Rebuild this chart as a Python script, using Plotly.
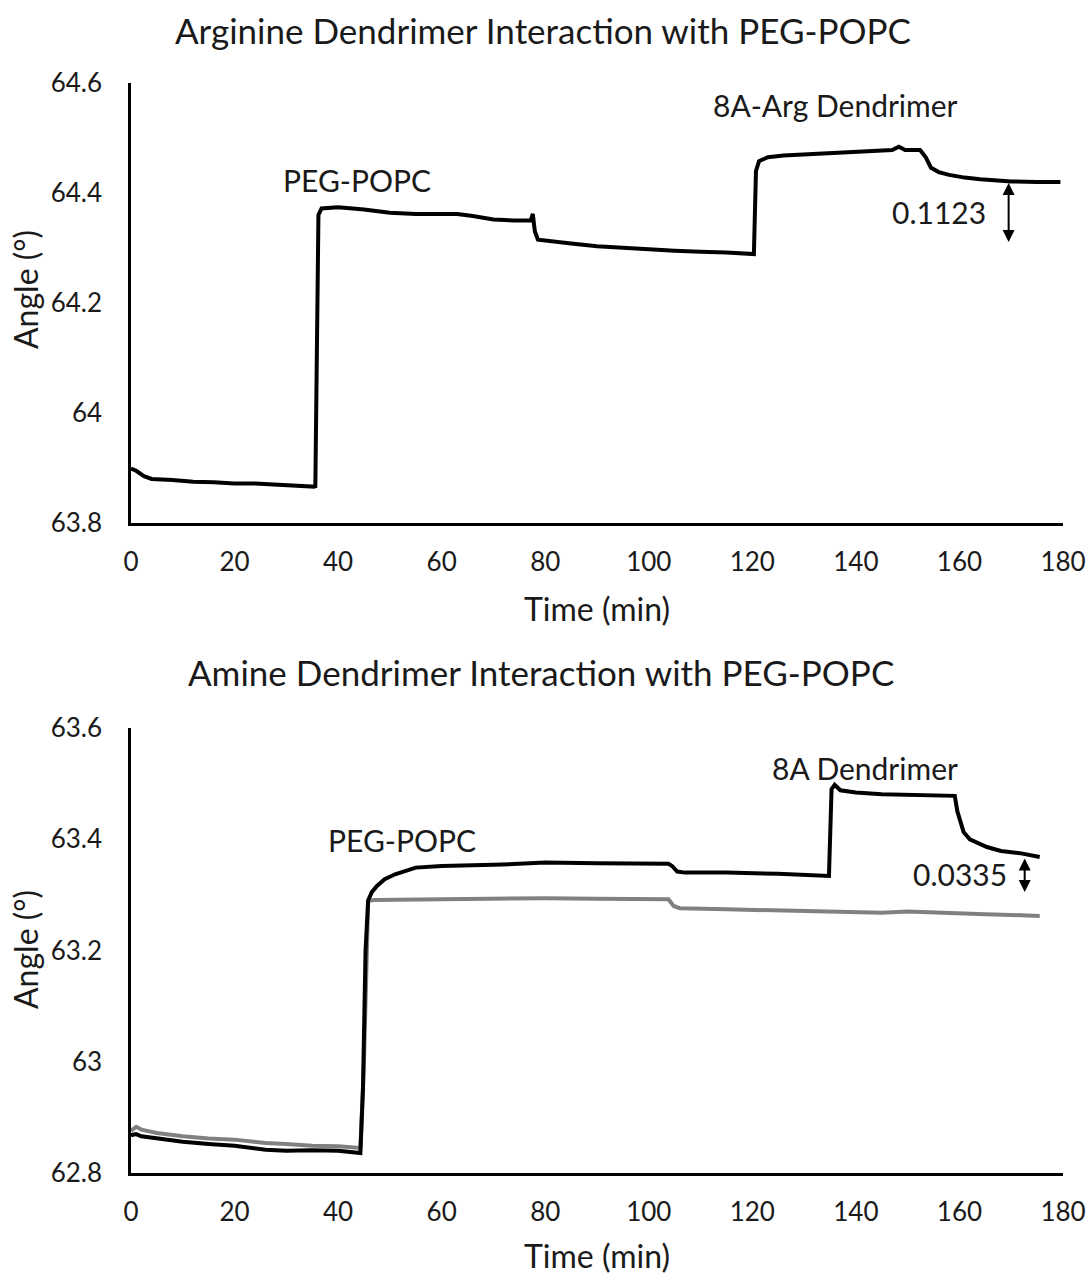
import plotly.graph_objects as go

# ---------------- data ----------------
# Top panel: Arginine dendrimer
arg_time = [0, 1, 2.5, 4, 8, 12, 16, 20, 24, 28, 32, 35.5,
            35.6, 36.2, 36.8, 40, 45, 50, 55, 60, 63, 66, 70, 74, 77.2,
            77.6, 78.0, 78.6, 81, 85, 90, 95, 100, 105, 110, 115, 120.3,
            120.7, 121.3, 123, 126, 130, 135, 140, 144, 147, 148.3, 149.5,
            152.4, 153.5, 154.5, 156, 158, 161, 164, 167, 170, 175, 179.5]
arg_angle = [63.899, 63.895, 63.885, 63.880, 63.878, 63.875, 63.874, 63.872, 63.872, 63.870, 63.868, 63.866,
             63.864, 64.360, 64.372, 64.374, 64.370, 64.364, 64.362, 64.361, 64.362, 64.358, 64.352, 64.350, 64.350,
             64.362, 64.330, 64.315, 64.312, 64.308, 64.303, 64.300, 64.297, 64.295, 64.293, 64.292, 64.289,
             64.440, 64.458, 64.465, 64.468, 64.470, 64.472, 64.474, 64.477, 64.478, 64.484, 64.478,
             64.478, 64.465, 64.446, 64.438, 64.433, 64.428, 64.425, 64.423, 64.421, 64.420, 64.420]

# Bottom panel: Amine dendrimer (black) and reference trace (grey)
amine_time = [0, 1, 2, 5, 10, 15, 20, 26, 30, 35, 40, 44.3,
              44.8, 45.3, 45.8, 46.5, 47.5, 49, 51, 55, 60, 70, 80, 90, 100, 103.8,
              104.5, 105.5, 107, 115, 125, 134.8,
              135.3, 135.9, 137, 140, 145, 150, 155, 159.1,
              159.6, 160.2, 160.8, 162, 163.5, 165.3, 168, 171.7, 175.5]
amine_angle = [62.868, 62.870, 62.866, 62.862, 62.856, 62.852, 62.849, 62.842, 62.840, 62.841, 62.840, 62.836,
               62.950, 63.200, 63.290, 63.305, 63.316, 63.328, 63.337, 63.349, 63.352, 63.354, 63.358, 63.357, 63.356, 63.356,
               63.352, 63.342, 63.340, 63.340, 63.338, 63.334,
               63.490, 63.498, 63.488, 63.484, 63.481, 63.480, 63.480, 63.478,
               63.450, 63.430, 63.413, 63.400, 63.393, 63.386, 63.379, 63.375, 63.368]

ref_time = [0, 1, 2, 5, 10, 15, 20, 26, 30, 35, 40, 44.3,
            45.0, 45.8, 47, 55, 65, 80, 90, 100, 103.8,
            104.8, 106, 115, 125, 135, 145, 150, 155, 160, 165, 170, 175.5]
ref_angle = [62.876, 62.883, 62.878, 62.872, 62.866, 62.862, 62.860, 62.854, 62.852, 62.849, 62.848, 62.845,
             63.000, 63.289, 63.291, 63.292, 63.292, 63.294, 63.293, 63.293, 63.292,
             63.280, 63.276, 63.274, 63.272, 63.270, 63.268, 63.270, 63.268, 63.266, 63.265, 63.264, 63.262]

x_ticks = [0, 20, 40, 60, 80, 100, 120, 140, 160, 180]
top_y_ticks = [63.8, 64.0, 64.2, 64.4, 64.6]
top_y_text = ["63.8", "64", "64.2", "64.4", "64.6"]
bot_y_ticks = [62.8, 63.0, 63.2, 63.4, 63.6]
bot_y_text = ["62.8", "63", "63.2", "63.4", "63.6"]

titles = ["Arginine Dendrimer Interaction with PEG-POPC",
          "Amine Dendrimer Interaction with PEG-POPC"]

# ---------------- figure ----------------
FONT = "Lato"
TXT = "#1a1a1a"

W, H = 1088, 1274


def px(xp):
    return xp / W


def py(yp):
    return 1 - yp / H


fig = go.Figure()
fig.add_trace(go.Scatter(x=arg_time, y=arg_angle, mode="lines",
                         line=dict(color="#000000", width=4), xaxis="x", yaxis="y",
                         showlegend=False, hoverinfo="skip"))
fig.add_trace(go.Scatter(x=ref_time, y=ref_angle, mode="lines",
                         line=dict(color="#808080", width=4), xaxis="x2", yaxis="y2",
                         showlegend=False, hoverinfo="skip"))
fig.add_trace(go.Scatter(x=amine_time, y=amine_angle, mode="lines",
                         line=dict(color="#000000", width=4), xaxis="x2", yaxis="y2",
                         showlegend=False, hoverinfo="skip"))

xdom = [px(131), px(1063)]
top_dom = [py(523), py(83)]
bot_dom = [py(1173), py(728)]

TICK = dict(family=FONT, size=26, color=TXT)
AXT = dict(family=FONT, size=32, color=TXT)
axis_common = dict(showline=True, linecolor="#000000", linewidth=2.5, showgrid=False,
                   zeroline=False, ticks="", tickfont=TICK, automargin=False)

fig.update_layout(
    width=W, height=H,
    margin=dict(l=0, r=0, t=0, b=0, autoexpand=False),
    paper_bgcolor="white", plot_bgcolor="white",
    font=dict(family=FONT, color=TXT),
    xaxis=dict(domain=xdom, range=[0, 180], tickvals=x_ticks, anchor="y",
               ticklabelstandoff=14, **axis_common),
    yaxis=dict(domain=top_dom, range=[63.8, 64.6], tickvals=top_y_ticks, ticktext=top_y_text,
               anchor="x", ticklabelstandoff=21, **axis_common),
    xaxis2=dict(domain=xdom, range=[0, 180], tickvals=x_ticks, anchor="y2",
                ticklabelstandoff=14, **axis_common),
    yaxis2=dict(domain=bot_dom, range=[62.8, 63.6], tickvals=bot_y_ticks, ticktext=bot_y_text,
                anchor="x2", ticklabelstandoff=21, **axis_common),
)

ann = []


def paper_text(text, xp, yp, font, angle=0):
    return dict(text=text, xref="paper", yref="paper", x=px(xp), y=py(yp),
                xanchor="center", yanchor="middle", showarrow=False, textangle=angle, font=font)


# chart titles
TFONT = dict(family=FONT, size=35, color=TXT)
ann.append(paper_text(titles[0], 543, 30, TFONT))
ann.append(paper_text(titles[1], 541, 672, TFONT))
# axis titles
for ycen in (608, 1255):
    ann.append(paper_text("Time (min)", 597, ycen, AXT))
for ycen in (290, 950):
    ann.append(paper_text("Angle (°)", 25, ycen, AXT, angle=-90))
# text labels
lab_font = dict(family=FONT, size=30, color=TXT)


def data_text(text, x, y, ax):
    return dict(text=text, x=x, y=y, xref="x" + ax, yref="y" + ax, xanchor="center",
                yanchor="middle", showarrow=False, font=lab_font)


ann.append(data_text("PEG-POPC", 43.6, 64.423, ""))
ann.append(data_text("8A-Arg Dendrimer", 136, 64.56, ""))
ann.append(data_text("0.1123", 156, 64.366, ""))
ann.append(data_text("PEG-POPC", 52.3, 63.399, "2"))
ann.append(data_text("8A Dendrimer", 141.8, 63.528, "2"))
ann.append(data_text("0.0335", 160.2, 63.338, "2"))
# double-headed arrows
ann.append(dict(x=169.5, y=64.311, ax=169.5, ay=64.421, xref="x", yref="y", axref="x", ayref="y",
                text="", showarrow=True, arrowhead=2, startarrowhead=2, arrowside="end+start",
                arrowwidth=2, arrowsize=1.2, startarrowsize=1.2, arrowcolor="#000000"))
ann.append(dict(x=172.6, y=63.305, ax=172.6, ay=63.368, xref="x2", yref="y2", axref="x2", ayref="y2",
                text="", showarrow=True, arrowhead=2, startarrowhead=2, arrowside="end+start",
                arrowwidth=2, arrowsize=1.2, startarrowsize=1.2, arrowcolor="#000000"))
fig.update_layout(annotations=ann)

# remove the default page margin so the figure fills the window exactly
fig.write_html("out.html", config={"displayModeBar": False},
               post_script="document.body.style.margin='0';document.body.style.overflow='hidden';")
